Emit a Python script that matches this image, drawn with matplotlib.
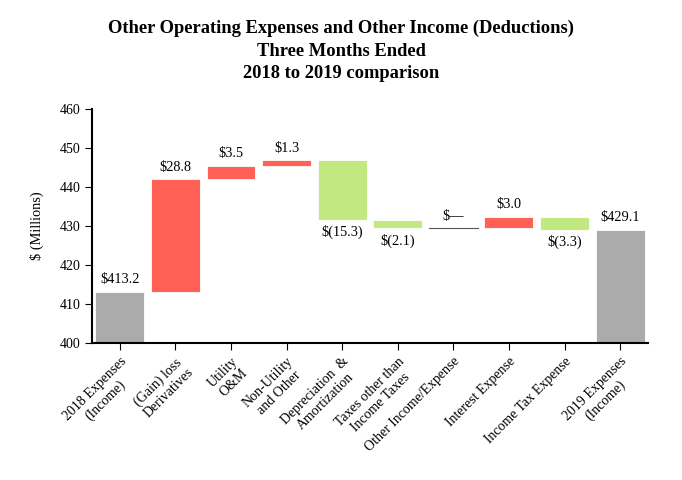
import numpy as np
from matplotlib import pyplot as plt

plt.rcParams['font.family'] = ['Liberation Serif', 'DejaVu Serif']

categories = ['2018 Expenses\n(Income)', '(Gain) loss\nDerivatives', 'Utility\nO&M',
              'Non-Utility\nand Other', 'Depreciation  &\nAmortization',
              'Taxes other than\nIncome Taxes', 'Other Income/Expense',
              'Interest Expense', 'Income Tax Expense', '2019 Expenses\n(Income)']
start_value = 413.2
changes = [28.8, 3.5, 1.3, -15.3, -2.1, 0.0, 3.0, -3.3]
end_value = 429.1
labels = ['$413.2', '$28.8', '$3.5', '$1.3', '$(15.3)', '$(2.1)', '$\u2014',
          '$3.0', '$(3.3)', '$429.1']

grey = '#ababab'
red = '#ff6154'
green = '#c2e882'

fig = plt.figure(figsize=(6.82, 4.8), dpi=100)
ax = fig.add_axes([0.135, 0.285, 0.815, 0.488])

x = np.arange(len(categories))
bottoms = [400]
heights = [start_value - 400]
colors = [grey]
level = start_value
for c in changes:
    bottoms.append(level if c >= 0 else level + c)
    heights.append(abs(c))
    colors.append(red if c > 0 else (green if c < 0 else grey))
    level += c
bottoms.append(400)
heights.append(end_value - 400)
colors.append(grey)

w = 0.88
ax.bar(x, heights, bottom=bottoms, width=w, color=colors, edgecolor='white', linewidth=0.6)
# zero-change step drawn as a thin line
for i, c in enumerate(changes):
    if c == 0:
        ax.plot([x[i + 1] - w / 2, x[i + 1] + w / 2], [bottoms[i + 1]] * 2, color='#555555', lw=0.8)

for i in range(len(categories)):
    top = bottoms[i] + heights[i]
    if i in (0, len(categories) - 1) or changes[i - 1] >= 0:
        ax.text(x[i], top + 1.4, labels[i], ha='center', va='bottom', fontsize=10.3)
    else:
        ax.text(x[i], bottoms[i] - 1.3, labels[i], ha='center', va='top', fontsize=10.3)

ax.set_xlim(-0.5, len(categories) - 0.5)
ax.set_ylim(400, 460)
ax.set_yticks(np.arange(400, 461, 10))
ax.set_xticks(x)
ax.set_xticklabels(categories, rotation=45, ha='right', rotation_mode='anchor',
                   multialignment='center', fontsize=10)
ax.tick_params(axis='both', labelsize=10, length=5, width=0.8)
ax.spines['top'].set_visible(False)
ax.spines['right'].set_visible(False)
ax.spines['left'].set_linewidth(1.5)
ax.spines['bottom'].set_linewidth(1.5)
ax.set_ylabel('$ (Millions)', fontsize=10.3, labelpad=11)

fig.suptitle('Other Operating Expenses and Other Income (Deductions)\nThree Months Ended\n2018 to 2019 comparison',
             fontsize=13.3, fontweight='bold', y=0.958, linespacing=1.4)

fig.savefig('out.png', dpi=100)
